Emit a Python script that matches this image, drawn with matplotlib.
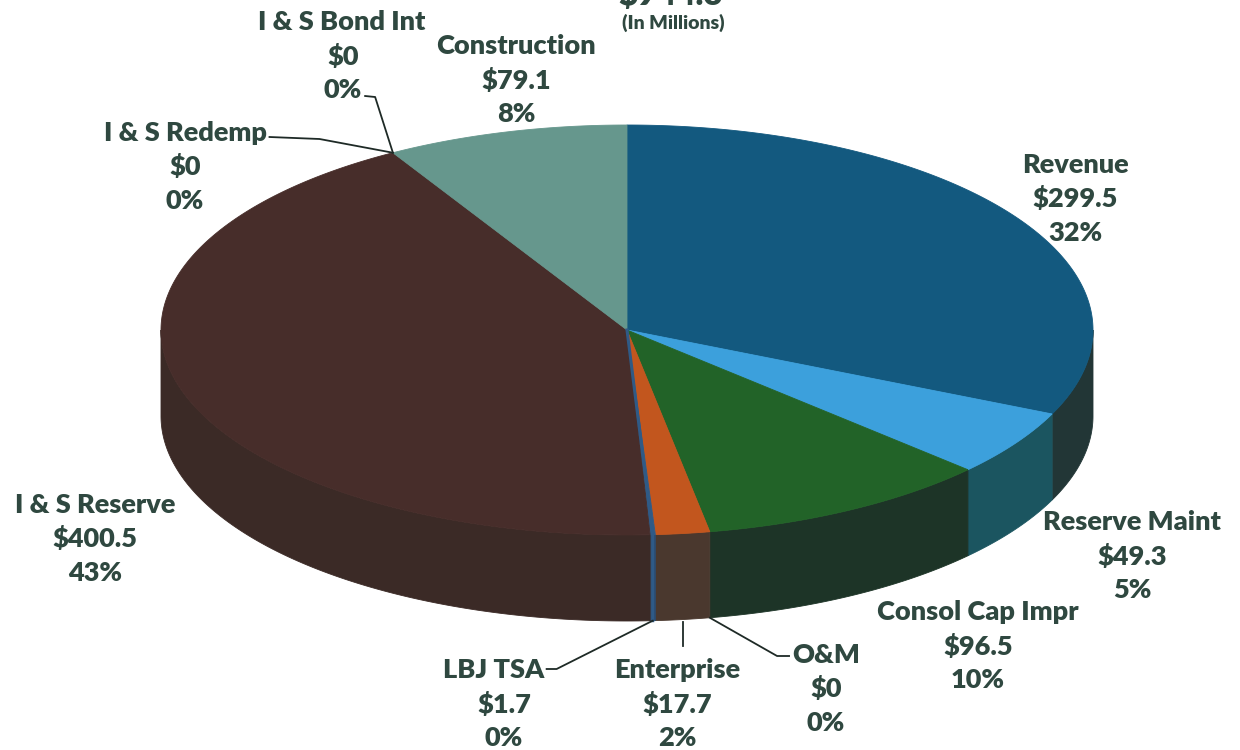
import numpy as np
import matplotlib
matplotlib.use("Agg")
import matplotlib.pyplot as plt
from matplotlib.patches import Polygon

# Fund balances (in millions)
funds = ["Revenue", "Reserve Maint", "Consol Cap Impr", "O&M", "Enterprise",
         "LBJ TSA", "I & S Reserve", "I & S Redemp", "I & S Bond Int", "Construction"]
amounts = [299.5, 49.3, 96.5, 0.0, 17.7, 1.7, 400.5, 0.0, 0.0, 79.1]
pct_labels = ["32%", "5%", "10%", "0%", "2%", "0%", "43%", "0%", "0%", "8%"]
amount_labels = ["$299.5", "$49.3", "$96.5", "$0", "$17.7", "$1.7", "$400.5", "$0", "$0", "$79.1"]
total_label = "$944.3"
units_label = "(In Millions)"

top_colors = ["#13597F", "#3CA0DC", "#226328", "#226328", "#C2561E",
              "#2F5A86", "#472D2A", "#472D2A", "#472D2A", "#66978D"]
side_colors = ["#223636", "#1B5560", "#1D3427", "#1D3427", "#4A382E",
               "#2A4A70", "#3B2A26", "#3B2A26", "#3B2A26", "#4E7670"]

TEXT = "#2F4840"
plt.rcParams["font.family"] = ["Lato", "DejaVu Sans"]
WEIGHT = "heavy"
FS = 19.5

fig = plt.figure(figsize=(12.4, 7.5), dpi=100)
ax = fig.add_axes([0, 0, 1, 1])
ax.set_xlim(0, 1240)
ax.set_ylim(750, 0)
ax.set_aspect("equal")
ax.axis("off")

# pie geometry (pixel space)
cx, cy = 627, 330
a, b = 466, 205
depth = 86


def top_pt(t):
    return cx + a * np.cos(t), cy - b * np.sin(t)


def bot_pt(t):
    return cx + a * np.cos(t), cy + depth - b * np.sin(t)


vals = np.array(amounts)
sweep = vals / vals.sum() * 2 * np.pi
starts = np.pi / 2 - np.concatenate([[0], np.cumsum(sweep)[:-1]])
ends = starts - sweep

# side walls: only the front half (angles between -pi and 0) is visible
for i in range(len(vals)):
    if sweep[i] <= 0:
        continue
    s, e = starts[i], ends[i]
    for shift in (0, -2 * np.pi, 2 * np.pi):
        hi = min(s + shift, 0.0)
        lo = max(e + shift, -np.pi)
        if hi > lo:
            t = np.linspace(hi, lo, 200)
            xt, yt = top_pt(t)
            xb, yb = bot_pt(t[::-1])
            pts = np.column_stack([np.concatenate([xt, xb]), np.concatenate([yt, yb])])
            ax.add_patch(Polygon(pts, closed=True, facecolor=side_colors[i],
                                 edgecolor=side_colors[i], linewidth=0.6, zorder=1))

# top faces
for i in range(len(vals)):
    if sweep[i] <= 0:
        continue
    t = np.linspace(starts[i], ends[i], 400)
    xt, yt = top_pt(t)
    pts = np.column_stack([np.concatenate([[cx], xt]), np.concatenate([[cy], yt])])
    ax.add_patch(Polygon(pts, closed=True, facecolor=top_colors[i],
                         edgecolor=top_colors[i], linewidth=0.6, zorder=2))

# thin LBJ TSA slice: outline it so it stays visible
i_lbj = funds.index("LBJ TSA")
tm = (starts[i_lbj] + ends[i_lbj]) / 2
x0, y0 = top_pt(tm)
x1, y1 = bot_pt(tm)
ax.plot([cx, x0, x1], [cy, y0, y1], color=top_colors[i_lbj], lw=2.2, zorder=3)

# data labels: (x of name, y of name, x of value lines)
label_pos = {
    "Revenue": (1075, 165, 1075),
    "Reserve Maint": (1132, 522, 1132),
    "Consol Cap Impr": (978, 612, 978),
    "O&M": (826, 655, 826),
    "Enterprise": (677, 670, 677),
    "LBJ TSA": (494, 670, 504),
    "I & S Reserve": (95, 505, 95),
    "I & S Redemp": (185, 133, 185),
    "I & S Bond Int": (342, 22, 343),
    "Construction": (516, 46, 516),
}
line_gap = 34
texts = {}
for i, name in enumerate(funds):
    x, y, xs = label_pos[name]
    t0 = ax.text(x, y, name, ha="center", va="center", fontsize=FS,
                 fontweight=WEIGHT, color=TEXT, zorder=5)
    ax.text(xs, y + line_gap, amount_labels[i], ha="center", va="center",
            fontsize=FS, fontweight=WEIGHT, color=TEXT, zorder=5)
    t2 = ax.text(xs, y + 2 * line_gap, pct_labels[i], ha="center", va="center",
                 fontsize=FS, fontweight=WEIGHT, color=TEXT, zorder=5)
    texts[name] = (t0, t2)

renderer = fig.canvas.get_renderer()


def right_edge(t):
    bb = t.get_window_extent(renderer=renderer)
    return ax.transData.inverted().transform((bb.x1, bb.y0))[0]


def left_edge(t):
    bb = t.get_window_extent(renderer=renderer)
    return ax.transData.inverted().transform((bb.x0, bb.y0))[0]


# leader lines
lk = dict(color="#1E2A26", lw=1.3, zorder=4)
i_red = funds.index("I & S Redemp")
ax_, ay_ = top_pt(starts[i_red])
xb0 = right_edge(texts["I & S Bond Int"][1]) + 3
ax.plot([xb0, xb0 + 10, ax_], [96, 97, ay_], **lk)            # I & S Bond Int
xr0 = right_edge(texts["I & S Redemp"][0]) + 3
ax.plot([xr0, xr0 + 50, ax_], [137, 139, ay_], **lk)          # I & S Redemp
lx, ly = bot_pt(tm)
xl0 = right_edge(texts["LBJ TSA"][0]) + 2
ax.plot([xl0, xl0 + 10, lx], [669, 669, ly], **lk)            # LBJ TSA
i_ent = funds.index("Enterprise")
ex, ey = bot_pt((starts[i_ent] + ends[i_ent]) / 2)
ax.plot([ex, ex], [ey + 2, ey + 26], **lk)                    # Enterprise
i_om = funds.index("O&M")
ox, oy = bot_pt(starts[i_om])
xo0 = left_edge(texts["O&M"][0]) - 3
ax.plot([ox, xo0 - 12, xo0], [oy, 656, 656], **lk)            # O&M

# total heading (partly above the canvas)
ax.text(671, 5, total_label, ha="center", va="baseline", fontsize=24,
        fontweight=WEIGHT, color=TEXT, zorder=5)
ax.text(673, 23, units_label, ha="center", va="center", fontsize=14,
        fontweight=WEIGHT, color=TEXT, zorder=5)

fig.savefig("out.png", dpi=100, facecolor="white")
